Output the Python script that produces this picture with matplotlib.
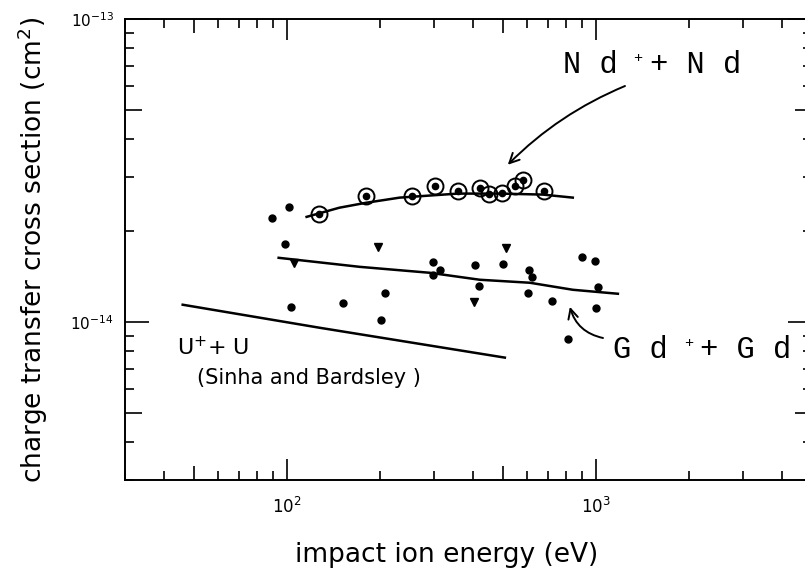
import matplotlib
matplotlib.use('Agg')
import matplotlib.pyplot as plt
import matplotlib.ticker as ticker
import numpy as np

# ---- data ----
# Nd+ + Nd : circled points and fitted curve
nd_x = [127, 180, 254, 301, 358, 421, 451, 497, 547, 580, 679]
nd_y = [2.27e-14, 2.61e-14, 2.61e-14, 2.81e-14, 2.71e-14, 2.77e-14,
        2.65e-14, 2.67e-14, 2.81e-14, 2.94e-14, 2.71e-14]
nd_fit_x = [116, 148, 180, 232, 358, 489, 674, 842]
nd_fit_y = [2.22e-14, 2.38e-14, 2.47e-14, 2.57e-14, 2.65e-14, 2.65e-14, 2.63e-14, 2.57e-14]

# Gd+ + Gd : dots, a few triangle-like marks, fitted line
gd_x = [89.4, 101.5, 98.5, 103, 151.8, 207.6, 201.5, 296.8, 312.7, 296.8, 405.9,
        500.1, 607, 620.7, 418.2, 602.6, 720.3, 900.9, 992.6, 1015, 1000, 811.6]
gd_y = [2.20e-14, 2.40e-14, 1.81e-14, 1.12e-14, 1.155e-14, 1.246e-14, 1.015e-14,
        1.578e-14, 1.484e-14, 1.429e-14, 1.542e-14, 1.554e-14, 1.484e-14, 1.408e-14,
        1.315e-14, 1.246e-14, 1.173e-14, 1.639e-14, 1.589e-14, 1.305e-14, 1.112e-14,
        8.79e-15]
gd_tri_x = [106, 197, 403, 512]
gd_tri_y = [1.566e-14, 1.768e-14, 1.164e-14, 1.755e-14]
gd_fit_x = [94.2, 172.3, 290.2, 421.3, 611.5, 842.4, 1178]
gd_fit_y = [1.626e-14, 1.518e-14, 1.451e-14, 1.376e-14, 1.345e-14, 1.275e-14, 1.237e-14]

# U+ + U (Sinha and Bardsley)
u_fit_x = [46.1, 127.9, 507.7]
u_fit_y = [1.138e-14, 9.55e-15, 7.61e-15]

W, H = 805, 569
fig = plt.figure(figsize=(W / 100, H / 100), dpi=100)
# right spine sits just outside the picture like in the scan
ax = fig.add_axes([125 / W, (H - 480) / H, (812 - 125) / W, (480 - 19) / H])

ax.set_xscale('log')
ax.set_yscale('log')
ax.set_xlim(30, 5000)
ax.set_ylim(3e-15, 1e-13)

k = 'black'
ax.plot(nd_fit_x, nd_fit_y, color=k, lw=1.8)
ax.plot(nd_x, nd_y, 'o', mfc='none', mec=k, ms=11.5, mew=1.4)
ax.plot(nd_x, nd_y, 'o', color=k, ms=4.5)

ax.plot(gd_fit_x, gd_fit_y, color=k, lw=1.8)
ax.plot(gd_x, gd_y, 'o', color=k, ms=5)
ax.plot(gd_tri_x, gd_tri_y, 'v', color=k, ms=5.5)

ax.plot(u_fit_x, u_fit_y, color=k, lw=1.8)

# ticks: decades long, the 5s medium, the rest short
ax.xaxis.set_major_locator(ticker.FixedLocator([50, 100, 500, 1000, 5000]))
ax.xaxis.set_minor_locator(ticker.LogLocator(base=10, subs=[2, 3, 4, 6, 7, 8, 9], numticks=20))
ax.yaxis.set_major_locator(ticker.FixedLocator([5e-15, 1e-14, 5e-14, 1e-13]))
ax.yaxis.set_minor_locator(ticker.LogLocator(base=10, subs=[2, 3, 4, 6, 7, 8, 9], numticks=20))


def dec_fmt(v, pos):
    e = np.log10(v)
    if abs(e - round(e)) < 1e-6:
        return r'$10^{%d}$' % round(e)
    return ''


ax.xaxis.set_major_formatter(ticker.FuncFormatter(dec_fmt))
ax.yaxis.set_major_formatter(ticker.FuncFormatter(dec_fmt))
ax.xaxis.set_minor_formatter(ticker.NullFormatter())
ax.yaxis.set_minor_formatter(ticker.NullFormatter())

ax.tick_params(which='both', direction='in', top=True, right=True, width=1.2, color=k)
ax.tick_params(which='minor', length=6.5)
ax.tick_params(axis='x', which='major', labelsize=12, pad=12)
ax.tick_params(axis='y', which='major', labelsize=11, pad=8)

for t, v in zip(ax.xaxis.get_major_ticks(), ax.xaxis.get_majorticklocs()):
    e = np.log10(v)
    ln = 15 if abs(e - round(e)) < 1e-6 else 10
    t.tick1line.set_markersize(ln)
    t.tick2line.set_markersize(ln)
for t, v in zip(ax.yaxis.get_major_ticks(), ax.yaxis.get_majorticklocs()):
    e = np.log10(v)
    ln = 17 if abs(e - round(e)) < 1e-6 else 12
    t.tick1line.set_markersize(ln)
    t.tick2line.set_markersize(ln)

for s in ax.spines.values():
    s.set_linewidth(1.4)

ax.set_xlabel('impact ion energy (eV)', fontsize=19)
ax.xaxis.label.set_va('center')
ax.xaxis.set_label_coords((447 - 125) / 687, (480 - 555) / 461)
ax.set_ylabel('charge transfer cross section (cm$^2$)', fontsize=19)
ax.yaxis.label.set_va('center')
ax.yaxis.set_label_coords((33 - 125) / 687, (480 - 250) / 461)

# labels for the curves (typewriter lettering, tiny raised plus)
mono = 'Liberation Mono'
fig.text(563 / W, 1 - 73 / H, 'N d', family=mono, fontsize=22, va='baseline')
fig.text(633 / W, 1 - 62 / H, '+', family=mono, fontsize=11, va='baseline')
fig.text(650 / W, 1 - 73 / H, '+ N d', family=mono, fontsize=22, va='baseline')
fig.text(613 / W, 1 - 358 / H, 'G d', family=mono, fontsize=22, va='baseline')
fig.text(684 / W, 1 - 347 / H, '+', family=mono, fontsize=11, va='baseline')
fig.text(700 / W, 1 - 358 / H, '+ G d', family=mono, fontsize=22, va='baseline')
fig.text(177 / W, 1 - 355 / H, 'U$^{+}$+ U', fontsize=16, va='baseline')
fig.text(197 / W, 1 - 384 / H, '(Sinha and Bardsley )', fontsize=15, va='baseline')

ax.annotate('', xy=(519, 3.3e-14), xycoords='data',
            xytext=(625 / W, 1 - 86 / H), textcoords='figure fraction',
            arrowprops=dict(arrowstyle='->,head_length=0.7,head_width=0.35',
                            connectionstyle='arc3,rad=0.1', lw=1.4, color=k,
                            shrinkA=0, shrinkB=0))
ax.annotate('', xy=(824, 1.12e-14), xycoords='data',
            xytext=(603 / W, 1 - 338 / H), textcoords='figure fraction',
            arrowprops=dict(arrowstyle='->,head_length=0.7,head_width=0.35',
                            connectionstyle='arc3,rad=-0.3', lw=1.4, color=k,
                            shrinkA=0, shrinkB=0))

plt.savefig('out.png', dpi=100)
plt.close()
